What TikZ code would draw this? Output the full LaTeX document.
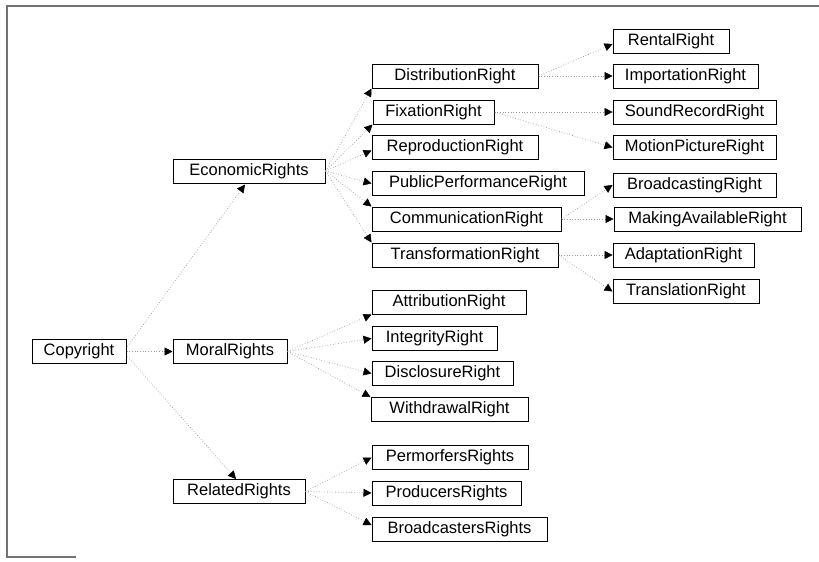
\documentclass[tikz,border=0pt]{standalone}
\usepackage{fontspec}
\setmainfont{Liberation Sans}
\usetikzlibrary{arrows.meta,calc}
\begin{document}
\begin{tikzpicture}[x=1pt,y=-1pt,
  box/.style={draw=black,line width=1pt,inner sep=0pt,minimum height=24pt,
    font=\fontsize{16.5}{19}\selectfont,anchor=center},
  link/.style={draw=black!40,line width=0.7pt,dotted,
    -{Triangle[length=8pt,width=8pt,color=black,fill=black,line width=0.5pt]}},
  frameline/.style={draw=black!55,line width=1.2pt}]
\useasboundingbox (0,0) rectangle (819,562);
\coordinate (f1) at (7,6);
\coordinate (f2) at (819,6);
\coordinate (f3) at (7,557);
\coordinate (f4) at (76,557);
\draw[frameline] (f2) -- (f1) -- (f3) -- (f4);

\node[box,minimum width=94pt]  (copy)    at (79,351.5)  {Copyright};
\node[box,minimum width=152pt] (econ)    at (249,171)   {EconomicRights};
\node[box,minimum width=114pt] (moral)   at (230,351.5) {MoralRights};
\node[box,minimum width=132pt] (related) at (239,491.5) {RelatedRights};

\node[box,minimum width=166pt] (dist)  at (455,76)    {DistributionRight};
\node[box,minimum width=121pt] (fix)   at (433.5,112) {FixationRight};
\node[box,minimum width=166pt] (repr)  at (455,147.5) {ReproductionRight};
\node[box,minimum width=212pt] (pub)   at (478,183.5) {PublicPerformanceRight};
\node[box,minimum width=189pt] (comm)  at (466.5,219) {CommunicationRight};
\node[box,minimum width=186pt] (trans) at (465,255)   {TransformationRight};

\node[box,minimum width=116pt] (rental) at (671,41)      {RentalRight};
\node[box,minimum width=145pt] (import) at (685.5,76)    {ImportationRight};
\node[box,minimum width=163pt] (sound)  at (694.5,112)   {SoundRecordRight};
\node[box,minimum width=163pt] (motion) at (694.5,147.5) {MotionPictureRight};
\node[box,minimum width=163pt] (bcast)  at (694.5,185)   {BroadcastingRight};
\node[box,minimum width=187pt] (making) at (707.5,219)   {MakingAvailableRight};
\node[box,minimum width=141pt] (adapt)  at (683.5,255)   {AdaptationRight};
\node[box,minimum width=146pt] (transl) at (686,291.5)   {TranslationRight};

\node[box,minimum width=154pt] (attr)  at (449,302)     {AttributionRight};
\node[box,minimum width=125pt] (integ) at (434.5,338.5) {IntegrityRight};
\node[box,minimum width=141pt] (discl) at (442.5,373.5) {DisclosureRight};
\node[box,minimum width=157pt] (withd) at (449.5,409.5) {WithdrawalRight};

\node[box,minimum width=156pt] (perf) at (450,457.5) {PermorfersRights};
\node[box,minimum width=149pt] (prod) at (446.5,493) {ProducersRights};
\node[box,minimum width=175pt] (bcr)  at (459.5,529) {BroadcastersRights};

% level 1
\draw[link] ($(copy.east)+(1,-5)$) -- ($(econ.south)+(-4,1)$);
\draw[link] (copy.east) -- (moral.west);
\draw[link] ($(copy.east)+(1,5)$) -- ($(related.north)+(-3,0)$);

% economic
\draw[link] (econ.east) -- (dist.south west);
\draw[link] (econ.east) -- (fix.south west);
\draw[link] (econ.east) -- ($(repr.west)+(0,3)$);
\draw[link] (econ.east) -- (pub.west);
\draw[link] (econ.east) -- (comm.north west);
\draw[link] (econ.east) -- (trans.north west);

% level 3
\draw[link] (dist.east) -- ($(rental.west)+(0,3)$);
\draw[link] (dist.east) -- (import.west);
\draw[link] (fix.east) -- (sound.west);
\draw[link] (fix.east) -- (motion.west);
\draw[link] (comm.east) -- (bcast.west);
\draw[link] (comm.east) -- (making.west);
\draw[link] (trans.east) -- (adapt.west);
\draw[link] (trans.east) -- (transl.west);

% moral
\draw[link] (moral.east) -- (attr.south west);
\draw[link] (moral.east) -- (integ.west);
\draw[link] (moral.east) -- (discl.west);
\draw[link] (moral.east) -- (withd.north west);

% related
\draw[link] (related.east) -- (perf.west);
\draw[link] (related.east) -- (prod.west);
\draw[link] (related.east) -- ($(bcr.west)+(0,-4)$);
\end{tikzpicture}
\end{document}
